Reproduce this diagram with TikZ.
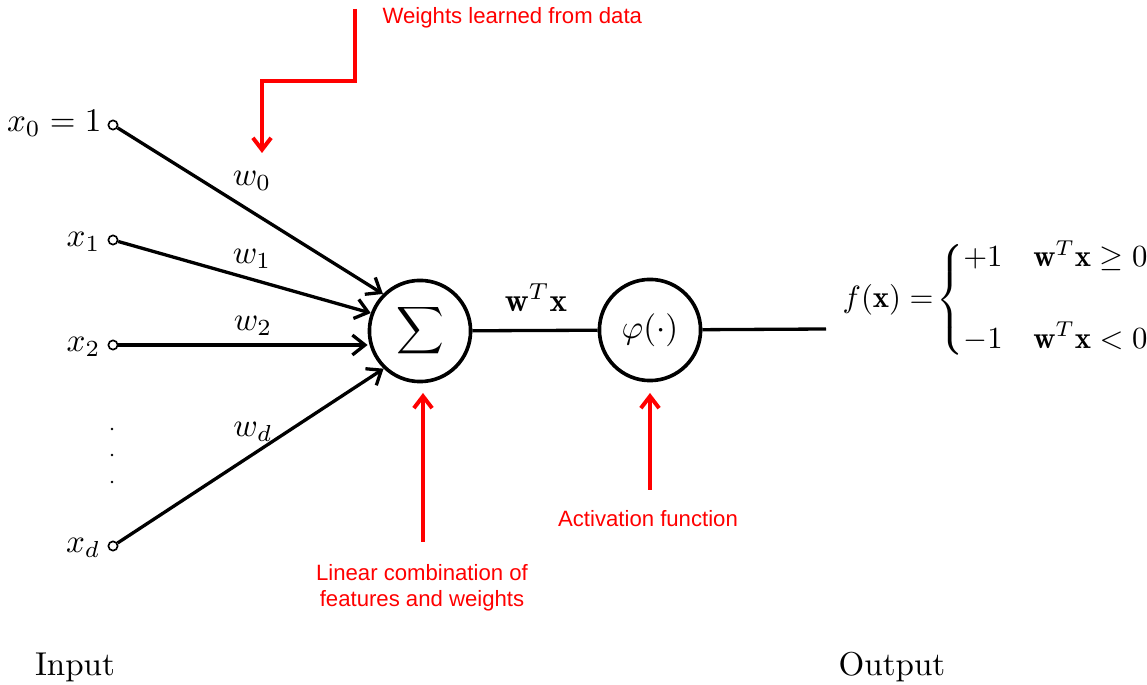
\documentclass[tikz,border=0pt]{standalone}
\usepackage{amsmath}
\usepackage{graphicx}
\usepackage{fontspec}
\newfontfamily\redsans{Liberation Sans}
\usetikzlibrary{arrows.meta}
\tikzset{
  incirc/.style={circle,draw,line width=0.5pt,minimum size=2.8pt,inner sep=0pt,fill=white},
  bigcirc/.style={circle,draw,line width=1.1pt,minimum size=30.6pt,inner sep=0pt},
  conn/.style={line width=1pt},
  inarrow/.style={line width=1pt,-{Straight Barb[length=3.8pt,width=6pt,line width=1pt]}},
  redarrow/.style={line width=1.2pt,red,-{Straight Barb[length=3.6pt,width=5.5pt,line width=1.2pt]}},
  redtext/.style={text=red,font=\redsans\fontsize{6.7}{7.9}\selectfont,inner sep=0pt,align=center},
  lbl/.style={inner sep=0pt}
}
\begin{document}
\begin{tikzpicture}[x=0.3025pt,y=-0.3025pt]
\useasboundingbox (0,0) rectangle (1147,685);
% input circles
\node[incirc] (c0) at (113,125) {};
\node[incirc] (c1) at (113,240) {};
\node[incirc] (c2) at (113,345) {};
\node[incirc] (cd) at (113,546) {};
% input labels
\node[lbl,anchor=base east] (l0) at (102,132) {$x_0=1$};
\node[lbl,anchor=base east] (l1) at (101,247) {$x_1$};
\node[lbl,anchor=base east] (l2) at (101,352) {$x_2$};
\node[lbl,anchor=base east] (ld) at (101,553) {$x_d$};
% dots
\fill (112,429) circle (1.3);
\fill (112,455) circle (1.3);
\fill (112,482) circle (1.3);
% neurons
\node[bigcirc] (sum) at (420,331) {$\displaystyle\sum$};
\node[bigcirc] (phi) at (650,330) {$\varphi(\cdot)$};
% input arrows
\draw[inarrow] (c0) -- (sum.135);
\draw[inarrow] (c1) -- (sum.160);
\draw[inarrow] (c2) -- (c2 -| sum.west);
\draw[inarrow] (cd) -- (sum.226);
% weight labels
\node[lbl] (w0) at (252,181) {$w_0$};
\node[lbl] (w1) at (252,259) {$w_1$};
\node[lbl] (w2) at (253,326) {$w_2$};
\node[lbl] (wd) at (253,432) {$w_d$};
% sum to phi
\draw[conn] (sum) -- (phi);
\node[lbl] (wtx) at (536,298) {$\mathbf{w}^T\mathbf{x}$};
% output
\coordinate (oend) at (826,329);
\draw[conn] (phi) -- (oend);
\node[lbl,anchor=west] (fx) at (842,300) {\scalebox{0.93}{$f(\mathbf{x})=\kern-2pt\left\{\begin{array}{@{}l@{\hspace{10pt}}l@{}}+1 & \mathbf{w}^T\mathbf{x}\geq 0\\[14.5pt] -1 & \mathbf{w}^T\mathbf{x}<0\end{array}\right.$}};
% bottom labels
\node[lbl] (inp) at (75,667) {Input};
\node[lbl] (outp) at (892,667) {Output};
% red annotations
\coordinate (ws) at (355,9);
\coordinate (we) at (262,153);
\draw[redarrow] (ws) -- ++(0,72) -| (we);
\node[redtext,anchor=west] (wt) at (382,18) {Weights learned from data};
\coordinate (ls) at (423,542);
\coordinate (le) at (423,393);
\draw[redarrow] (ls) -- (le);
\node[redtext] (lt) at (422,588) {Linear combination of\\features and weights};
\coordinate (as) at (650,490);
\coordinate (ae) at (650,393);
\draw[redarrow] (as) -- (ae);
\node[redtext] (at) at (648,519) {Activation function};
\end{tikzpicture}
\end{document}
